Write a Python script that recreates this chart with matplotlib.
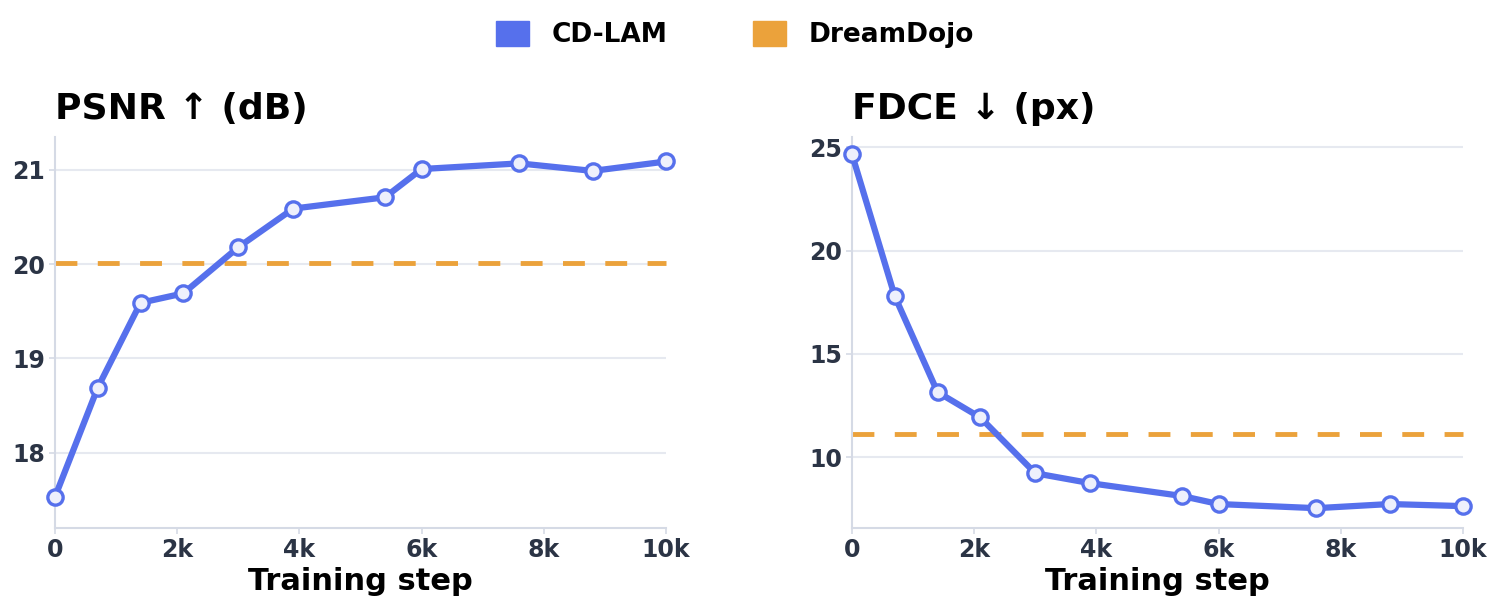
import matplotlib
matplotlib.use("Agg")
import matplotlib.pyplot as plt
from matplotlib.patches import Patch
from matplotlib.ticker import FuncFormatter

# training steps at which both metrics were evaluated
steps = [0, 700, 1400, 2100, 3000, 3900, 5400, 6000, 7600, 8800, 10000]

psnr_cdlam = [17.53, 18.69, 19.59, 19.69, 20.18, 20.59, 20.71, 21.01, 21.07, 20.99, 21.09]
psnr_dreamdojo = 20.01

fdce_cdlam = [24.66, 17.79, 13.15, 11.92, 9.22, 8.74, 8.12, 7.73, 7.53, 7.73, 7.63]
fdce_dreamdojo = 11.12

BLUE = "#5670ec"
ORANGE = "#eba23b"
TICK_COLOR = "#2b3445"
SPINE_COLOR = "#d5dae5"
GRID_COLOR = "#e6e9f0"

plt.rcParams["font.family"] = ["DejaVu Sans"]
plt.rcParams["font.weight"] = "bold"


def k_fmt(v, _):
    return "0" if v == 0 else f"{v / 1000:.0f}k"


def style_panel(ax, title, yticks, ylim):
    ax.set_xlim(0, 10000)
    ax.set_ylim(*ylim)
    ax.set_xticks([0, 2000, 4000, 6000, 8000, 10000])
    ax.xaxis.set_major_formatter(FuncFormatter(k_fmt))
    ax.set_yticks(yticks)
    ax.grid(axis="y", color=GRID_COLOR, linewidth=1.5, zorder=0)
    for side in ["top", "right"]:
        ax.spines[side].set_visible(False)
    for side in ["left", "bottom"]:
        ax.spines[side].set_color(SPINE_COLOR)
        ax.spines[side].set_linewidth(1.5)
    ax.tick_params(colors=SPINE_COLOR, labelcolor=TICK_COLOR, labelsize=17,
                   length=4, width=1.2, pad=3)
    for lbl in ax.get_xticklabels() + ax.get_yticklabels():
        lbl.set_fontweight("bold")
    ax.set_title(title, loc="left", fontsize=26, fontweight="bold", pad=13)
    ax.set_xlabel("Training step", fontsize=22, fontweight="bold", labelpad=4)


def draw_series(ax, values, baseline):
    ax.axhline(baseline, color=ORANGE, linestyle=(0, (4.5, 4.2)), linewidth=3.5,
               zorder=2, clip_on=False)
    ax.plot(steps, values, color=BLUE, linewidth=4.5, marker="o", markersize=11,
            markerfacecolor="#eef0fc", markeredgecolor=BLUE, markeredgewidth=2.4,
            zorder=3, clip_on=False)


fig = plt.figure(figsize=(15, 6.1), dpi=100)
ax1 = fig.add_axes([55 / 1500, 1 - 528 / 610, 611 / 1500, 391 / 610])
ax2 = fig.add_axes([852 / 1500, 1 - 528 / 610, 611 / 1500, 391 / 610])

draw_series(ax1, psnr_cdlam, psnr_dreamdojo)
style_panel(ax1, "PSNR ↑ (dB)", [18, 19, 20, 21], (17.2, 21.35))

draw_series(ax2, fdce_cdlam, fdce_dreamdojo)
style_panel(ax2, "FDCE ↓ (px)", [10, 15, 20, 25], (6.57, 25.5))

handles = [Patch(color=BLUE, label="CD-LAM"), Patch(color=ORANGE, label="DreamDojo")]
fig.legend(handles=handles, loc="upper center", bbox_to_anchor=(0.49, 1.005), ncol=2,
           frameon=False, handlelength=1.25, handleheight=1.1,
           handletextpad=0.85, columnspacing=3.25, prop={"weight": "bold", "size": 19})

fig.savefig("out.png", dpi=100)
plt.close(fig)
